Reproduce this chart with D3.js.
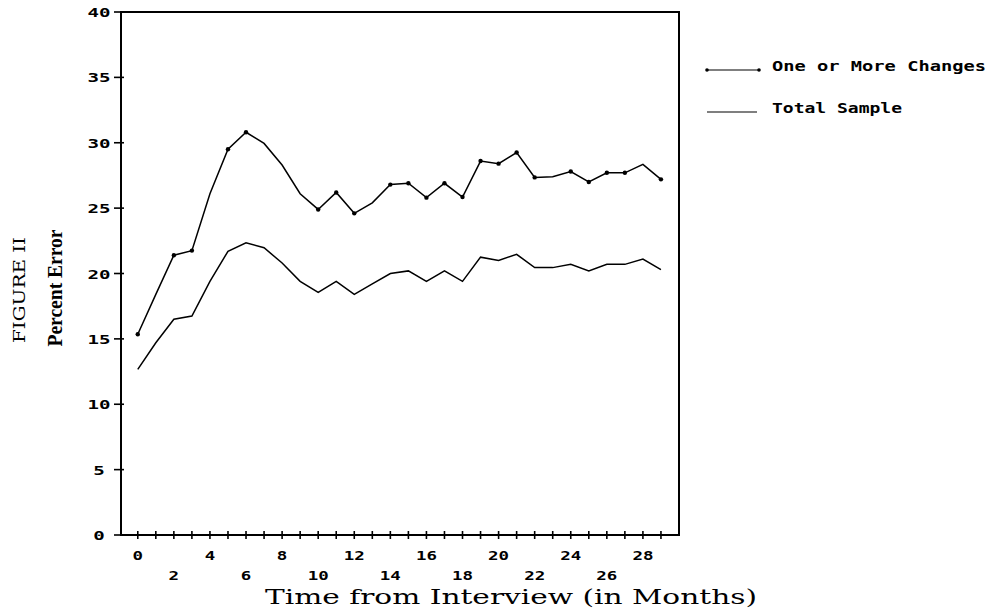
<!DOCTYPE html>
<html>
<head>
<meta charset="utf-8">
<script src="https://cdn.jsdelivr.net/npm/d3@7"></script>
<style>
  body { margin: 0; background: #fff; }
  svg { display: block; }
  .tick-label { font-family: "DejaVu Sans Mono", monospace; font-weight: bold; font-size: 13px; fill: #000; }
</style>
</head>
<body>
<script>
const width = 991;
const height = 610;

// months 0..29
const months = d3.range(0, 30);
const one_or_more = [15.35, 18.4, 21.4, 21.75, 26.1, 29.5, 30.8, 29.95, 28.3, 26.1,
                     24.9, 26.2, 24.6, 25.4, 26.8, 26.9, 25.8, 26.9, 25.85, 28.6,
                     28.4, 29.25, 27.35, 27.4, 27.8, 27.0, 27.7, 27.7, 28.35, 27.2];
const total_sample = [12.67, 14.7, 16.5, 16.75, 19.4, 21.7, 22.35, 21.97, 20.8, 19.4,
                      18.55, 19.4, 18.4, 19.2, 20.0, 20.2, 19.4, 20.2, 19.4, 21.25,
                      21.0, 21.47, 20.45, 20.45, 20.7, 20.2, 20.7, 20.7, 21.1, 20.3];
// months where the plotter drew a dot on the upper line
const dotted_months = [0, 2, 3, 5, 6, 10, 11, 12, 14, 15, 16, 17, 18, 19, 20, 21, 22, 24, 25, 26, 27, 29];

const y_ticks = [0, 5, 10, 15, 20, 25, 30, 35, 40];
const x_labels_row1 = [0, 4, 8, 12, 16, 20, 24, 28];
const x_labels_row2 = [2, 6, 10, 14, 18, 22, 26];

const legend_labels = ["One or More Changes", "Total Sample"];

const plot = {left: 121, right: 679, top: 12, bottom: 535};

let svg = d3.select("body").append("svg")
        .attr("width", width)
        .attr("height", height);

let x = d3.scaleLinear()
        .domain([-0.93, 30])
        .range([plot.left, plot.right]);
let y = d3.scaleLinear()
        .domain([0, 40])
        .range([plot.bottom, plot.top]);

// frame: left, bottom, top, right
svg.append("path")
   .attr("d", "M" + plot.left + "," + plot.top + "V" + plot.bottom + "H" + plot.right + "V" + plot.top + "Z")
   .attr("fill", "none")
   .attr("stroke", "#000")
   .attr("stroke-width", 2);

// y ticks (cross marks on the axis)
svg.selectAll(".ytick")
   .data(y_ticks)
   .enter().append("line")
   .attr("x1", plot.left - 7)
   .attr("x2", plot.left + 3)
   .attr("y1", d => y(d))
   .attr("y2", d => y(d))
   .attr("stroke", "#000")
   .attr("stroke-width", 1.6);

svg.selectAll(".ylab")
   .data(y_ticks)
   .enter().append("text")
   .attr("class", "tick-label")
   .attr("x", 99)
   .attr("y", d => y(d) + 5)
   .attr("text-anchor", "middle")
   .attr("textLength", d => String(d).length * 11.5)
   .attr("lengthAdjust", "spacingAndGlyphs")
   .text(d => d);

// x ticks every month
svg.selectAll(".xtick")
   .data(d3.range(0, 30))
   .enter().append("line")
   .attr("x1", d => x(d))
   .attr("x2", d => x(d))
   .attr("y1", plot.bottom - 4)
   .attr("y2", plot.bottom + 4)
   .attr("stroke", "#000")
   .attr("stroke-width", 1.6);

let add_x_labels = function(vals, base){
  svg.selectAll(null)
     .data(vals)
     .enter().append("text")
     .attr("class", "tick-label")
     .attr("x", d => x(d))
     .attr("y", base)
     .attr("text-anchor", "middle")
     .attr("textLength", d => String(d).length * 10.5)
     .attr("lengthAdjust", "spacingAndGlyphs")
     .text(d => d);
}
add_x_labels(x_labels_row1, 560);
add_x_labels(x_labels_row2, 580);

// lines
let line = d3.line()
        .x((d, i) => x(months[i]))
        .y(d => y(d));

svg.append("path")
   .datum(one_or_more)
   .attr("d", line)
   .attr("fill", "none")
   .attr("stroke", "#000")
   .attr("stroke-width", 1.5);

svg.append("path")
   .datum(total_sample)
   .attr("d", line)
   .attr("fill", "none")
   .attr("stroke", "#000")
   .attr("stroke-width", 1.5);

svg.selectAll(".dot")
   .data(dotted_months)
   .enter().append("circle")
   .attr("cx", d => x(d))
   .attr("cy", d => y(one_or_more[d]))
   .attr("r", 2.2)
   .attr("fill", "#000");

// legend
svg.append("line")
   .attr("x1", 707).attr("x2", 759)
   .attr("y1", 70).attr("y2", 70)
   .attr("stroke", "#000").attr("stroke-width", 1.2);
svg.selectAll(".ldot")
   .data([707, 759])
   .enter().append("circle")
   .attr("cx", d => d).attr("cy", 70).attr("r", 1.8).attr("fill", "#000");
svg.append("line")
   .attr("x1", 707).attr("x2", 757)
   .attr("y1", 112).attr("y2", 112)
   .attr("stroke", "#000").attr("stroke-width", 1.2);

svg.append("text")
   .attr("class", "tick-label")
   .attr("x", 772).attr("y", 71)
   .style("font-size", "14px")
   .attr("textLength", 214)
   .attr("lengthAdjust", "spacingAndGlyphs")
   .text(legend_labels[0]);
svg.append("text")
   .attr("class", "tick-label")
   .attr("x", 772).attr("y", 113)
   .style("font-size", "14px")
   .attr("textLength", 130)
   .attr("lengthAdjust", "spacingAndGlyphs")
   .text(legend_labels[1]);

// axis titles
svg.append("text")
   .attr("x", 265).attr("y", 604)
   .style("font-family", "'DejaVu Serif', serif")
   .style("font-size", "21px")
   .attr("textLength", 492)
   .attr("lengthAdjust", "spacingAndGlyphs")
   .text("Time from Interview (in Months)");

svg.append("text")
   .attr("transform", "translate(25,290) rotate(-90)")
   .attr("text-anchor", "middle")
   .style("font-family", "'DejaVu Serif', serif")
   .style("font-size", "17px")
   .attr("textLength", 106)
   .attr("lengthAdjust", "spacingAndGlyphs")
   .text("FIGURE II");

svg.append("text")
   .attr("transform", "translate(62,288) rotate(-90)")
   .attr("text-anchor", "middle")
   .style("font-family", "'Liberation Serif', serif")
   .style("font-weight", "bold")
   .style("font-size", "20px")
   .attr("textLength", 117)
   .attr("lengthAdjust", "spacingAndGlyphs")
   .text("Percent Error");
</script>
</body>
</html>
